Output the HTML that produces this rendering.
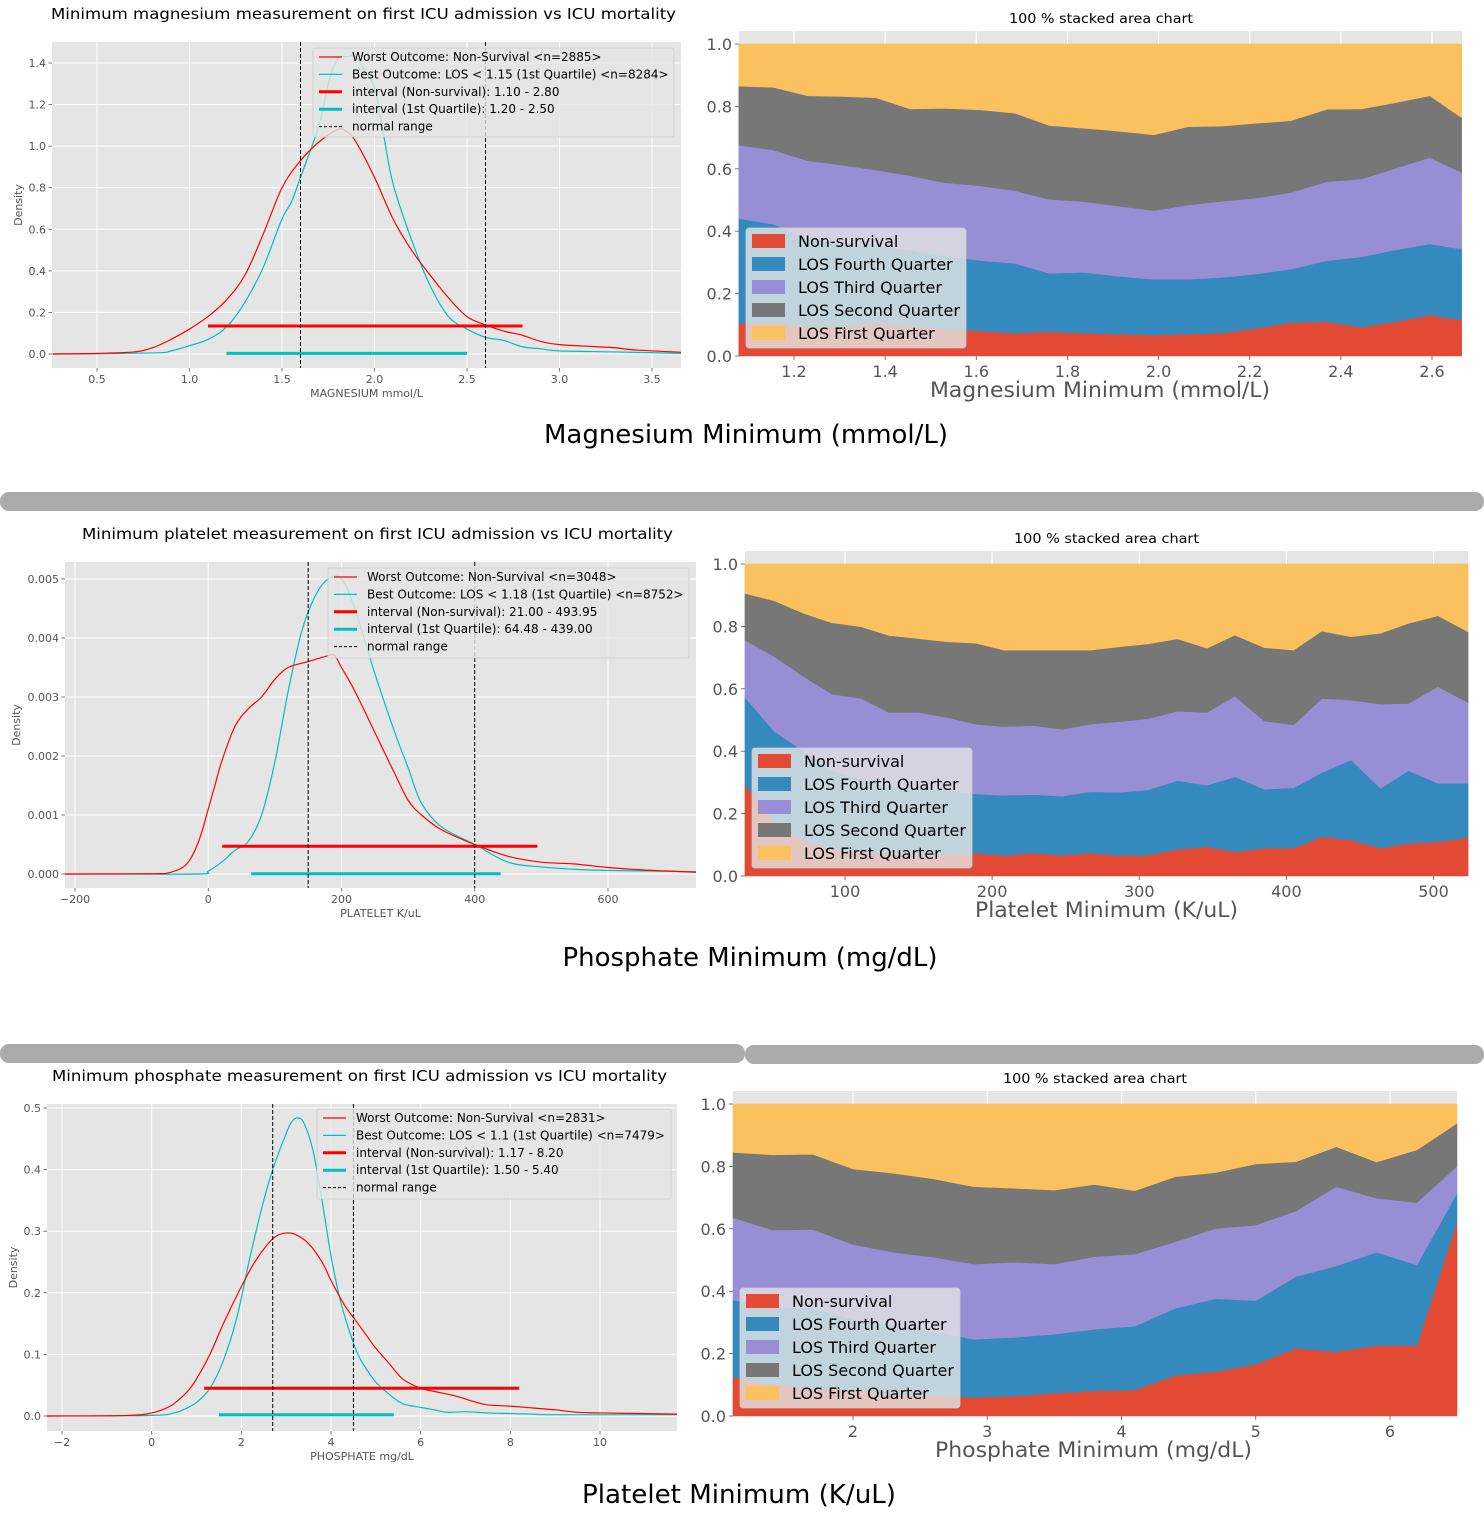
<!DOCTYPE html>
<html><head><meta charset="utf-8"><title>ICU mortality charts</title>
<style>
html,body{margin:0;padding:0;background:#fff;}
svg{display:block;font-family:"DejaVu Sans","Liberation Sans",sans-serif;}
</style></head>
<body>
<svg id="page" xmlns="http://www.w3.org/2000/svg" width="1484" height="1540" viewBox="0 0 1484 1540">
<rect x="0" y="0" width="1484" height="1540" fill="#fff"/>
<text x="746" y="443" font-size="26" text-anchor="middle" fill="#000" textLength="404" lengthAdjust="spacingAndGlyphs">Magnesium Minimum (mmol/L)</text>
<rect x="0" y="492" width="1484" height="19" rx="9" fill="#ababab"/>
<text x="750" y="966" font-size="26" text-anchor="middle" fill="#000" textLength="375" lengthAdjust="spacingAndGlyphs">Phosphate Minimum (mg/dL)</text>
<rect x="0" y="1044" width="745" height="19" rx="9" fill="#ababab"/>
<rect x="745" y="1045" width="739" height="19" rx="9" fill="#ababab"/>
<text x="739" y="1503" font-size="26" text-anchor="middle" fill="#000" textLength="314" lengthAdjust="spacingAndGlyphs">Platelet Minimum (K/uL)</text>
</svg>
<script>
// ---------- Magnesium density data ----------
const mgRedX = [0.26,0.5,0.7,0.8,0.9,1.0,1.1,1.2,1.3,1.4,1.5,1.6,1.7,1.8,1.85,1.9,2.0,2.1,2.2,2.3,2.4,2.5,2.6,2.7,2.8,2.9,3.0,3.2,3.3,3.4,3.66];
const mgRedY = [0.0,0.003,0.01,0.03,0.07,0.12,0.18,0.26,0.38,0.58,0.80,0.93,1.02,1.08,1.07,1.02,0.85,0.65,0.5,0.38,0.27,0.18,0.14,0.11,0.09,0.06,0.045,0.035,0.03,0.02,0.008];
const mgCyanX = [0.26,0.8,0.9,1.0,1.1,1.2,1.3,1.4,1.5,1.55,1.6,1.7,1.75,1.8,1.85,1.9,1.95,2.0,2.05,2.1,2.2,2.3,2.4,2.5,2.6,2.7,2.8,2.9,3.0,3.3,3.66];
const mgCyanY = [0.0,0.005,0.015,0.04,0.07,0.13,0.25,0.42,0.65,0.73,0.85,1.1,1.3,1.42,1.43,1.43,1.36,1.28,1.05,0.82,0.55,0.33,0.18,0.12,0.08,0.065,0.035,0.025,0.015,0.01,0.003];
const mgInterval = [1.10,2.80,0.135];
const mgIntervalQ1 = [1.20,2.50,0.003];
const mgNormal = [1.6,2.6];
const mgXTicks = [0.5,1.0,1.5,2.0,2.5,3.0,3.5];
const mgYTicks = [0.0,0.2,0.4,0.6,0.8,1.0,1.2,1.4];
const mgLegend = ["Worst Outcome: Non-Survival <n=2885>","Best Outcome: LOS < 1.15 (1st Quartile) <n=8284>","interval (Non-survival): 1.10 - 2.80","interval (1st Quartile): 1.20 - 2.50","normal range"];

// ---------- Platelet density data ----------
const plRedX = [-215,-80,-60,-40,-30,-20,-10,0,10,20,40,60,80,100,120,150,180,190,200,220,250,280,300,320,350,400,450,500,550,600,650,732];
const plRedY = [0,0.000005,0.00002,0.0001,0.0002,0.0004,0.0007,0.0011,0.0015,0.0019,0.0025,0.0028,0.0030,0.0033,0.0035,0.0036,0.0037,0.0037,0.0035,0.0031,0.0024,0.0017,0.00125,0.0010,0.00075,0.0005,0.0003,0.0002,0.00017,0.00011,0.00007,0.00003];
const plCyanX = [-215,-20,0,20,40,60,80,100,120,140,160,180,200,220,250,280,300,320,350,400,450,500,550,600,732];
const plCyanY = [0,0,0.00005,0.0002,0.0004,0.00055,0.001,0.0019,0.0031,0.0041,0.0047,0.0050,0.0050,0.0045,0.0034,0.0024,0.0018,0.0012,0.0008,0.0005,0.0002,0.00012,0.00008,0.00006,0.00004];
const plInterval = [21.00,493.95,0.00047];
const plIntervalQ1 = [64.48,439.00,0.000005];
const plNormal = [150,400];
const plXTicks = [-200,0,200,400,600];
const plYTicks = [0.000,0.001,0.002,0.003,0.004,0.005];
const plLegend = ["Worst Outcome: Non-Survival <n=3048>","Best Outcome: LOS < 1.18 (1st Quartile) <n=8752>","interval (Non-survival): 21.00 - 493.95","interval (1st Quartile): 64.48 - 439.00","normal range"];

// ---------- Phosphate density data ----------
const phRedX = [-2.34,-0.5,0,0.3,0.5,0.8,1.0,1.3,1.6,2.0,2.3,2.6,2.8,3.0,3.2,3.5,3.8,4.0,4.3,4.5,4.8,5.0,5.3,5.6,6.0,6.3,6.8,7.2,7.5,8.0,8.5,9.0,9.5,10.0,11.72];
const phRedY = [0,0.001,0.005,0.012,0.02,0.04,0.06,0.1,0.15,0.21,0.25,0.28,0.293,0.297,0.295,0.28,0.25,0.22,0.18,0.16,0.13,0.11,0.085,0.06,0.045,0.04,0.032,0.023,0.018,0.016,0.013,0.01,0.006,0.005,0.003];
const phCyanX = [-2.34,0,0.5,0.7,1.0,1.3,1.6,1.9,2.2,2.5,2.7,2.9,3.1,3.25,3.4,3.6,3.8,4.0,4.2,4.4,4.6,4.8,5.0,5.3,5.6,6.0,6.3,6.6,7.0,7.5,8.0,8.5,9.0,11.72];
const phCyanY = [0,0.001,0.005,0.01,0.022,0.045,0.09,0.16,0.26,0.35,0.4,0.44,0.475,0.484,0.475,0.43,0.35,0.26,0.19,0.14,0.10,0.075,0.055,0.035,0.02,0.014,0.01,0.006,0.007,0.005,0.004,0.003,0.002,0.002];
const phInterval = [1.17,8.20,0.045];
const phIntervalQ1 = [1.50,5.40,0.002];
const phNormal = [2.7,4.5];
const phXTicks = [-2,0,2,4,6,8,10];
const phYTicks = [0.0,0.1,0.2,0.3,0.4,0.5];
const phLegend = ["Worst Outcome: Non-Survival <n=2831>","Best Outcome: LOS < 1.1 (1st Quartile) <n=7479>","interval (Non-survival): 1.17 - 8.20","interval (1st Quartile): 1.50 - 5.40","normal range"];

// ---------- Stacked area data (cumulative upper boundary of each band) ----------
const stackNames = ["Non-survival","LOS Fourth Quarter","LOS Third Quarter","LOS Second Quarter","LOS First Quarter"];
const stackYTicks = [0.0,0.2,0.4,0.6,0.8,1.0];

const mgStackX = [1.079,1.155,1.23,1.305,1.38,1.455,1.53,1.61,1.685,1.76,1.835,1.91,1.99,2.065,2.14,2.215,2.29,2.37,2.445,2.52,2.595,2.665];
const mgCumNonSurvival = [0.104,0.105,0.095,0.095,0.105,0.095,0.085,0.08,0.073,0.078,0.073,0.07,0.067,0.07,0.073,0.089,0.107,0.110,0.092,0.11,0.131,0.115];
const mgCumFourth = [0.441,0.422,0.377,0.36,0.355,0.34,0.32,0.306,0.297,0.265,0.268,0.256,0.246,0.246,0.252,0.263,0.278,0.306,0.318,0.340,0.359,0.343];
const mgCumThird = [0.676,0.660,0.626,0.612,0.596,0.578,0.556,0.545,0.530,0.502,0.495,0.481,0.466,0.484,0.496,0.506,0.524,0.559,0.567,0.602,0.636,0.589];
const mgCumSecond = [0.865,0.861,0.834,0.832,0.828,0.792,0.794,0.789,0.778,0.739,0.730,0.721,0.709,0.735,0.737,0.746,0.754,0.791,0.792,0.812,0.834,0.764];
const mgStackXTicks = [1.2,1.4,1.6,1.8,2.0,2.2,2.4,2.6];

const plStackX = [32,52,72,91,111,130,150,169,189,208,228,248,267,287,306,326,346,365,385,405,424,444,464,483,503,523.5];
const plCumNonSurvival = [0.292,0.17,0.11,0.085,0.075,0.07,0.068,0.067,0.073,0.066,0.073,0.067,0.073,0.066,0.067,0.085,0.094,0.077,0.089,0.089,0.126,0.115,0.089,0.105,0.11,0.123];
const plCumFourth = [0.573,0.463,0.40,0.34,0.31,0.29,0.28,0.275,0.263,0.259,0.261,0.256,0.270,0.268,0.276,0.306,0.291,0.318,0.278,0.283,0.331,0.372,0.281,0.338,0.297,0.297];
const plCumThird = [0.756,0.703,0.639,0.583,0.569,0.524,0.524,0.509,0.486,0.479,0.482,0.470,0.487,0.495,0.504,0.528,0.524,0.577,0.497,0.484,0.569,0.564,0.551,0.553,0.607,0.556];
const plCumSecond = [0.906,0.882,0.842,0.812,0.799,0.771,0.761,0.751,0.746,0.724,0.724,0.724,0.724,0.735,0.744,0.760,0.730,0.772,0.732,0.724,0.785,0.767,0.778,0.810,0.834,0.783];
const plStackXTicks = [100,200,300,400,500];

const phStackX = [1.106,1.4,1.7,2.0,2.3,2.6,2.9,3.2,3.5,3.8,4.1,4.4,4.7,5.0,5.3,5.6,5.9,6.2,6.499];
const phCumNonSurvival = [0.124,0.10,0.09,0.08,0.07,0.065,0.06,0.064,0.073,0.081,0.083,0.130,0.142,0.166,0.217,0.206,0.226,0.226,0.623];
const phCumFourth = [0.372,0.35,0.345,0.31,0.29,0.27,0.246,0.252,0.262,0.278,0.288,0.345,0.376,0.370,0.447,0.481,0.525,0.484,0.714];
const phCumThird = [0.636,0.596,0.598,0.550,0.525,0.509,0.487,0.493,0.487,0.511,0.519,0.558,0.601,0.612,0.657,0.735,0.698,0.684,0.801];
const phCumSecond = [0.845,0.837,0.839,0.792,0.778,0.760,0.735,0.730,0.724,0.742,0.722,0.767,0.780,0.808,0.815,0.863,0.814,0.853,0.938];
const phStackXTicks = [2,3,4,5,6];

const NS = "http://www.w3.org/2000/svg";
const svg = document.getElementById('page');
function mk(tag, attrs, parent, txt){
  const e = document.createElementNS(NS, tag);
  for (const k in attrs) e.setAttribute(k, attrs[k]);
  if (txt !== undefined) e.textContent = txt;
  parent.appendChild(e);
  return e;
}
function lin(v1,p1,v2,p2){ return v => p1 + (v - v1) * (p2 - p1) / (v2 - v1); }
function smoothPath(pts){
  let d = "M" + pts[0][0].toFixed(2) + "," + pts[0][1].toFixed(2);
  for (let i = 0; i < pts.length - 1; i++){
    const p0 = pts[Math.max(0,i-1)], p1 = pts[i], p2 = pts[i+1], p3 = pts[Math.min(pts.length-1,i+2)];
    const c1x = p1[0] + (p2[0]-p0[0])/6, c1y = p1[1] + (p2[1]-p0[1])/6;
    const c2x = p2[0] - (p3[0]-p1[0])/6, c2y = p2[1] - (p3[1]-p1[1])/6;
    d += " C" + c1x.toFixed(2)+","+c1y.toFixed(2)+" "+c2x.toFixed(2)+","+c2y.toFixed(2)+" "+p2[0].toFixed(2)+","+p2[1].toFixed(2);
  }
  return d;
}
let clipId = 0;

function drawDensity(c){
  const g = mk('g', {}, svg);
  
  
  const sx = lin(c.xa[0], c.xa[1], c.xa[2], c.xa[3]);
  const sy = lin(c.ya[0], c.ya[1], c.ya[2], c.ya[3]);
  const title = mk('text', {x:(c.tx[0]+c.tx[1])/2, y:c.ty, 'font-size':15.5, 'text-anchor':'middle', fill:'#000', textLength:c.tx[1]-c.tx[0], lengthAdjust:'spacingAndGlyphs'}, g, c.title);
  
  
  const bg = mk('rect', {x:c.L, y:c.T, width:c.R-c.L, height:c.B-c.T, fill:'#e5e5e5'}, g);
  
  
  const cid = 'clip' + (clipId++);
  const cp = mk('clipPath', {id:cid}, g);
  mk('rect', {x:c.L, y:c.T, width:c.R-c.L, height:c.B-c.T}, cp);
  c.xTicks.forEach(t => {
    const x = sx(t);
    const gl = mk('line', {x1:x, x2:x, y1:c.T, y2:c.B, stroke:'#fff', 'stroke-width':1}, g);
    
    
    mk('line', {x1:x, x2:x, y1:c.B, y2:c.B+3.5, stroke:'#555', 'stroke-width':0.8}, g);
    const lb = mk('text', {x:x, y:c.B+15, 'font-size':11, 'text-anchor':'middle', fill:'#555'}, g, (t<0?'\u2212':'') + Math.abs(t).toFixed(c.xDec));
    
    
  });
  c.yTicks.forEach(t => {
    const y = sy(t);
    const gl = mk('line', {x1:c.L, x2:c.R, y1:y, y2:y, stroke:'#fff', 'stroke-width':1}, g);
    
    
    mk('line', {x1:c.L-3.5, x2:c.L, y1:y, y2:y, stroke:'#555', 'stroke-width':0.8}, g);
    const lb = mk('text', {x:c.L-6, y:y+4, 'font-size':11, 'text-anchor':'end', fill:'#555'}, g, t.toFixed(c.yDec));
    
    
  });
  const yl = mk('text', {x:0, y:0, 'font-size':11, 'text-anchor':'middle', fill:'#555', transform:'translate('+(c.L-c.yLabelOff)+','+((c.T+c.B)/2)+') rotate(-90)'}, g, 'Density');
  
  
  const xl = mk('text', {x:(c.L+c.R)/2, y:c.B+29, 'font-size':11, 'text-anchor':'middle', fill:'#555'}, g, c.xlabel);
  
  
  const pg = mk('g', {'clip-path':'url(#'+cid+')'}, g);
  const redPts = c.redX.map((v,i) => [sx(v), sy(c.redY[i])]);
  const cyPts = c.cyanX.map((v,i) => [sx(v), sy(c.cyanY[i])]);
  const cyan = mk('path', {d:smoothPath(cyPts), fill:'none', stroke:'#00bfbf', 'stroke-width':1.2}, pg);
  
  
  const red = mk('path', {d:smoothPath(redPts), fill:'none', stroke:'#ff0000', 'stroke-width':1.2}, pg);
  
  
  const ri = mk('line', {x1:sx(c.interval[0]), x2:sx(c.interval[1]), y1:sy(c.interval[2]), y2:sy(c.interval[2]), stroke:'#ff0000', 'stroke-width':3}, pg);
  
  
  const ci = mk('line', {x1:sx(c.intervalQ1[0]), x2:sx(c.intervalQ1[1]), y1:sy(c.intervalQ1[2]), y2:sy(c.intervalQ1[2]), stroke:'#00bfbf', 'stroke-width':3}, pg);
  
  
  c.normal.forEach(v => {
    const nl = mk('line', {x1:sx(v), x2:sx(v), y1:c.T, y2:c.B, stroke:'#000', 'stroke-width':1, 'stroke-dasharray':'4,2'}, pg);
    
    
  });
  const lg = mk('g', {}, g);
  
  
  mk('rect', {x:c.lg[0], y:c.lg[1], width:c.lg[2]-c.lg[0], height:c.lg[3]-c.lg[1], fill:'#e5e5e5', 'fill-opacity':0.8, stroke:'#cccccc', 'stroke-width':0.8, rx:2}, lg);
  const styles = [['#ff0000',1.2,''],['#00bfbf',1.2,''],['#ff0000',3,''],['#00bfbf',3,''],['#000',1,'3,2']];
  c.legend.forEach((txt,i) => {
    const y = c.lg[1] + 9 + 17.4*i;
    const s = styles[i];
    const ln = mk('line', {x1:c.lg[0]+6, x2:c.lg[0]+29, y1:y, y2:y, stroke:s[0], 'stroke-width':s[1]}, lg);
    if (s[2]) ln.setAttribute('stroke-dasharray', s[2]);
    
    
    const t = mk('text', {x:c.lg[0]+39, y:y+4, 'font-size':12, fill:'#000'}, lg, txt);
    
    
  });
}

function drawStacked(c){
  const g = mk('g', {}, svg);
  
  
  const sx = lin(c.xa[0], c.xa[1], c.xa[2], c.xa[3]);
  const sy = lin(0, c.y0, 1, c.y1);
  const title = mk('text', {x:(c.tx[0]+c.tx[1])/2, y:c.ty, 'font-size':13, 'text-anchor':'middle', fill:'#000', textLength:c.tx[1]-c.tx[0], lengthAdjust:'spacingAndGlyphs'}, g, '100 % stacked area chart');
  
  
  const bg = mk('rect', {x:c.L, y:c.T, width:c.R-c.L, height:c.y0-c.T, fill:'#e5e5e5'}, g);
  
  
  c.xTicks.forEach(t => {
    const x = sx(t);
    const gl = mk('line', {x1:x, x2:x, y1:c.T, y2:c.y0, stroke:'#fff', 'stroke-width':1.2}, g);
    
    
    mk('line', {x1:x, x2:x, y1:c.y0, y2:c.y0+4, stroke:'#555', 'stroke-width':0.8}, g);
    const lb = mk('text', {x:x, y:c.y0+21, 'font-size':16, 'text-anchor':'middle', fill:'#555'}, g, t.toFixed(c.xDec));
    
    
  });
  stackYTicks.forEach(t => {
    const y = sy(t);
    mk('line', {x1:c.L-4, x2:c.L, y1:y, y2:y, stroke:'#555', 'stroke-width':0.8}, g);
    const lb = mk('text', {x:c.L-7, y:y+6, 'font-size':16, 'text-anchor':'end', fill:'#555'}, g, t.toFixed(1));
    
    
  });
  const xl = mk('text', {x:(c.lx[0]+c.lx[1])/2, y:c.ly, 'font-size':21, 'text-anchor':'middle', fill:'#555', textLength:c.lx[1]-c.lx[0], lengthAdjust:'spacingAndGlyphs'}, g, c.xlabel);
  
  
  const tops = [c.cum[0], c.cum[1], c.cum[2], c.cum[3], c.x.map(() => 1)];
  const colors = ['#E24A33','#348ABD','#988ED5','#777777','#FBC15E'];
  const bandNames = ['area-non-survival','area-los-fourth-quarter','area-los-third-quarter','area-los-second-quarter','area-los-first-quarter'];
  for (let k = 0; k < 5; k++){
    const lower = k === 0 ? c.x.map(() => 0) : tops[k-1];
    const upper = tops[k];
    let d = '';
    c.x.forEach((v,i) => { d += (i ? 'L' : 'M') + sx(v).toFixed(2) + ',' + sy(upper[i]).toFixed(2); });
    for (let i = c.x.length - 1; i >= 0; i--) d += 'L' + sx(c.x[i]).toFixed(2) + ',' + sy(lower[i]).toFixed(2);
    d += 'Z';
    const a = mk('path', {d:d, fill:colors[k], stroke:colors[k], 'stroke-width':0.6}, g);
    
    
  }
  const lg = mk('g', {}, g);
  
  
  mk('rect', {x:c.lg[0], y:c.lg[1], width:220, height:120, fill:'#e5e5e5', 'fill-opacity':0.8, stroke:'#cccccc', 'stroke-width':0.8, rx:3}, lg);
  stackNames.forEach((nm,i) => {
    const y = c.lg[1] + 13 + 23*i;
    const sw = mk('rect', {x:c.lg[0]+6, y:y-7, width:33, height:14, fill:colors[i]}, lg);
    
    
    const t = mk('text', {x:c.lg[0]+52, y:y+6, 'font-size':16, fill:'#000'}, lg, nm);
    
    
  });
}

drawDensity({name:'magnesium-density-chart', L:52, R:681, T:42, B:368, xa:[0.5,97,3.5,652], ya:[0,354,1.4,63],
  title:'Minimum magnesium measurement on first ICU admission vs ICU mortality', tx:[51,676], ty:19,
  xlabel:'MAGNESIUM mmol/L', xTicks:mgXTicks, yTicks:mgYTicks, xDec:1, yDec:1, yLabelOff:30,
  redX:mgRedX, redY:mgRedY, cyanX:mgCyanX, cyanY:mgCyanY, interval:mgInterval, intervalQ1:mgIntervalQ1, normal:mgNormal,
  legend:mgLegend, lg:[313,48,674,137]});
drawDensity({name:'platelet-density-chart', L:65, R:696, T:562, B:888, xa:[-200,75,600,608], ya:[0,874,0.005,579],
  title:'Minimum platelet measurement on first ICU admission vs ICU mortality', tx:[82,673], ty:539,
  xlabel:'PLATELET K/uL', xTicks:plXTicks, yTicks:plYTicks, xDec:0, yDec:3, yLabelOff:45,
  redX:plRedX, redY:plRedY, cyanX:plCyanX, cyanY:plCyanY, interval:plInterval, intervalQ1:plIntervalQ1, normal:plNormal,
  legend:plLegend, lg:[328,568,689,658]});
drawDensity({name:'phosphate-density-chart', L:47, R:677, T:1104, B:1431, xa:[-2,62,10,600], ya:[0,1416,0.5,1108],
  title:'Minimum phosphate measurement on first ICU admission vs ICU mortality', tx:[52,667], ty:1081,
  xlabel:'PHOSPHATE mg/dL', xTicks:phXTicks, yTicks:phYTicks, xDec:0, yDec:1, yLabelOff:30,
  redX:phRedX, redY:phRedY, cyanX:phCyanX, cyanY:phCyanY, interval:phInterval, intervalQ1:phIntervalQ1, normal:phNormal,
  legend:phLegend, lg:[317,1109,671,1199]});

drawStacked({name:'magnesium-stacked-area-chart', L:739, R:1462, T:31, y0:356, y1:44, xa:[1.2,794,2.6,1432],
  tx:[1009,1193], ty:23, lx:[930,1270], ly:397, xlabel:'Magnesium Minimum (mmol/L)', xTicks:mgStackXTicks, xDec:1,
  x:mgStackX, cum:[mgCumNonSurvival,mgCumFourth,mgCumThird,mgCumSecond], lg:[746,228]});
drawStacked({name:'platelet-stacked-area-chart', L:745, R:1468, T:551, y0:876, y1:564, xa:[100,845,500,1433.5],
  tx:[1014,1199], ty:543, lx:[975,1238], ly:917, xlabel:'Platelet Minimum (K/uL)', xTicks:plStackXTicks, xDec:0,
  x:plStackX, cum:[plCumNonSurvival,plCumFourth,plCumThird,plCumSecond], lg:[752,748]});
drawStacked({name:'phosphate-stacked-area-chart', L:733, R:1457, T:1091, y0:1416, y1:1104, xa:[2,853,6,1390],
  tx:[1003,1187], ty:1083, lx:[935,1252], ly:1457, xlabel:'Phosphate Minimum (mg/dL)', xTicks:phStackXTicks, xDec:0,
  x:phStackX, cum:[phCumNonSurvival,phCumFourth,phCumThird,phCumSecond], lg:[740,1288]});
</script>
</body></html>
